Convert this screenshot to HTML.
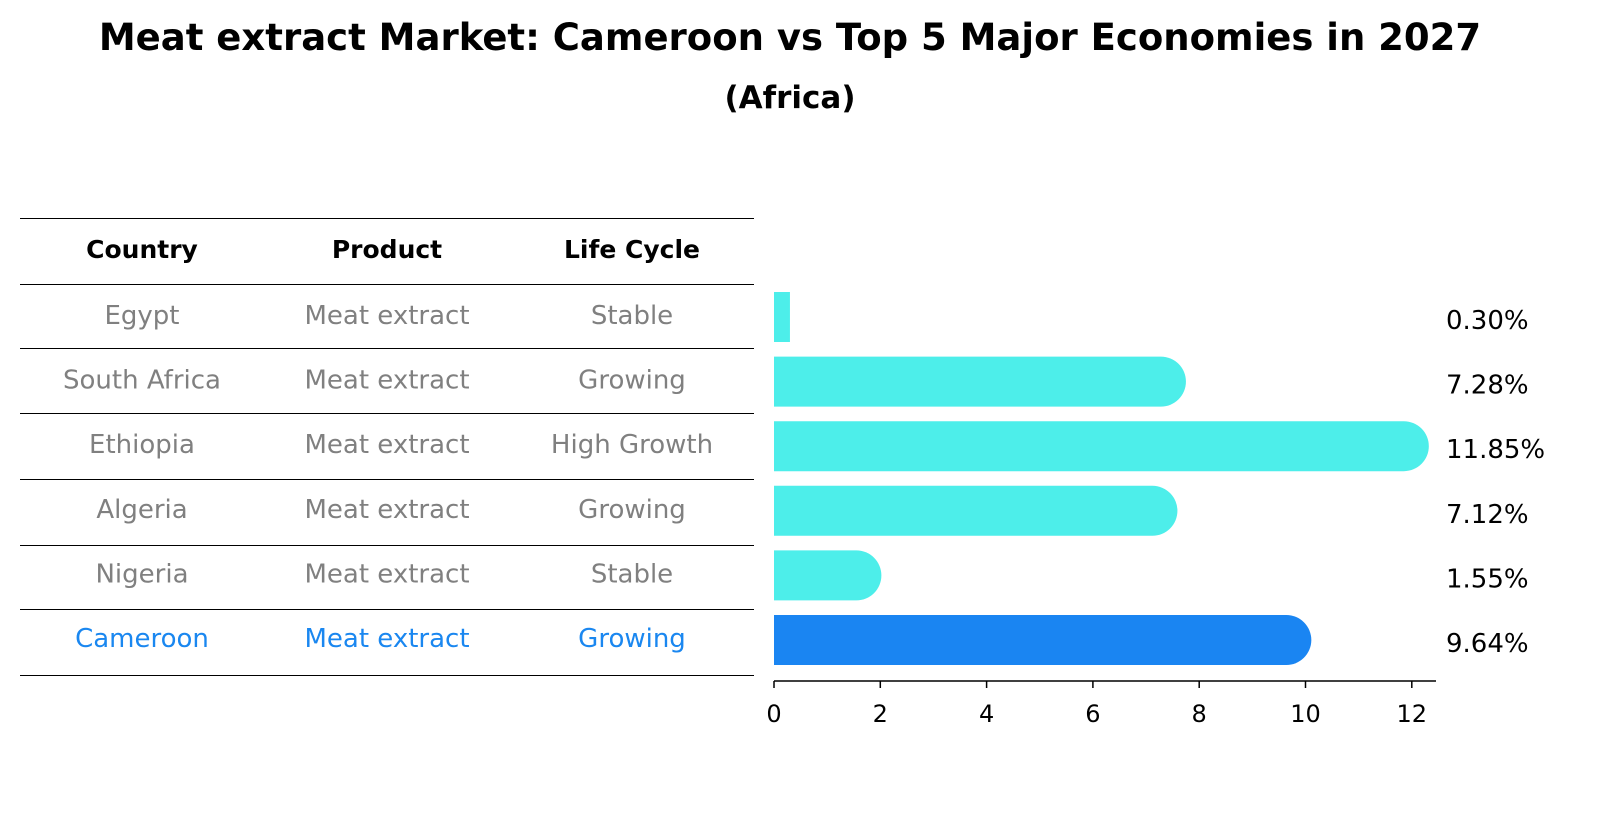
<!DOCTYPE html>
<html><head><meta charset="utf-8"><style>
body{margin:0;background:#fff;}
svg text{font-family:"DejaVu Sans","Liberation Sans",sans-serif;}
</style></head><body>
<svg width="1604" height="823" xmlns="http://www.w3.org/2000/svg">
<text x="790" y="50" text-anchor="middle" style="font-size:37px;font-weight:bold">Meat extract Market: Cameroon vs Top 5 Major Economies in 2027</text>
<text x="790" y="108" text-anchor="middle" style="font-size:31px;font-weight:bold">(Africa)</text>
<g id="table"></g>
<g id="bars"></g>
</svg>
<script>
const countries=["Egypt","South Africa","Ethiopia","Algeria","Nigeria","Cameroon"];
const products=["Meat extract","Meat extract","Meat extract","Meat extract","Meat extract","Meat extract"];
const lifeCycles=["Stable","Growing","High Growth","Growing","Stable","Growing"];
const values=[0.30,7.28,11.85,7.12,1.55,9.64];
const valueLabels=["0.30%","7.28%","11.85%","7.12%","1.55%","9.64%"];
const xTicks=[0,2,4,6,8,10,12];
const NS="http://www.w3.org/2000/svg";
const x0=774,pxPer=53.15;
function xs(v){return x0+v*pxPer;}
function rowY(i){return 317+i*64.6;}
function mk(tag,attrs,parent,txt){const e=document.createElementNS(NS,tag);for(const k in attrs)e.setAttribute(k,attrs[k]);if(txt!==undefined)e.textContent=txt;parent.appendChild(e);return e;}
const tbl=document.getElementById('table');
const lines=[218,284,348,413,479,545,609,675];
lines.forEach(y=>{const l=mk('line',{x1:20,x2:754,y1:y+0.5,y2:y+0.5,stroke:'#000','stroke-width':1,'shape-rendering':'crispEdges'},tbl);

});
const colX=[142,387,632];
["Country","Product","Life Cycle"].forEach((h,j)=>{const t=mk('text',{x:colX[j],y:258,'text-anchor':'middle',style:'font-size:25px;font-weight:bold'},tbl,h);

});
const bars=document.getElementById('bars');
countries.forEach((c,i)=>{
 const y=rowY(i);const col=i===5?'#1a87f0':'#808080';
 [c,products[i],lifeCycles[i]].forEach((s,j)=>{const t=mk('text',{x:colX[j],y:y+7,'text-anchor':'middle',style:'font-size:26px',fill:col},tbl,s);
 
 });
 const fill=i===5?'#1a85f2':'#4deeea';
 const w=xs(values[i])-x0;const r=25;
 let d;
 if(w>r){d=`M${x0},${y-r} H${x0+w} A${r},${r} 0 0 1 ${x0+w},${y+r} H${x0} Z`;}
 else{d=`M${x0},${y-r} H${x0+w} V${y+r} H${x0} Z`;}
 const p=mk('path',{d:d,fill:fill},bars);
 
 
 const t=mk('text',{x:1446,y:y+12,style:'font-size:26px'},bars,valueLabels[i]);
 
 
});
const ax=mk('line',{x1:x0,x2:1436,y1:681,y2:681,stroke:'#000','stroke-width':1.5},bars);


xTicks.forEach(v=>{const l=mk('line',{x1:xs(v),x2:xs(v),y1:681,y2:688,stroke:'#000','stroke-width':1.5},bars);


const t=mk('text',{x:xs(v),y:722,'text-anchor':'middle',style:'font-size:24px'},bars,String(v));

});
</script>
</body></html>
